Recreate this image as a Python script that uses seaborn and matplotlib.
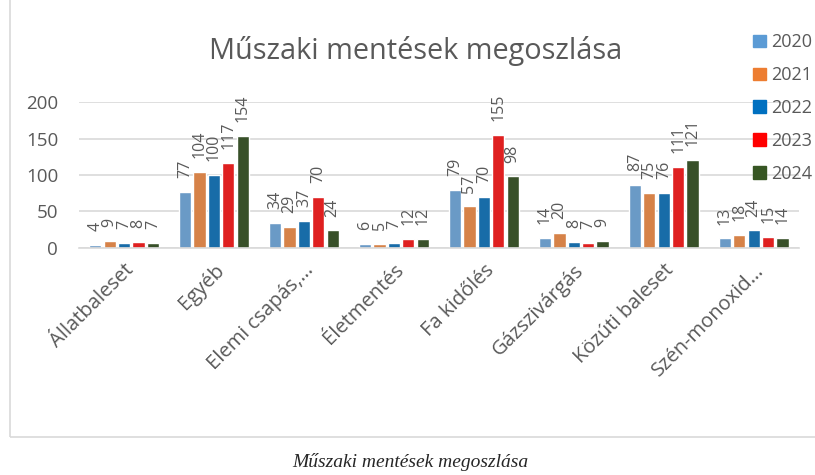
import pandas as pd
import seaborn as sns
import matplotlib.pyplot as plt
from matplotlib.patches import Rectangle

# data
categories = ["Állatbaleset", "Egyéb", "Elemi csapás,…", "Életmentés", "Fa kidőlés",
              "Gázszivárgás", "Közúti baleset", "Szén-monoxid…"]
years = ["2020", "2021", "2022", "2023", "2024"]
v2020 = [4, 77, 34, 6, 79, 14, 87, 13]
v2021 = [9, 104, 29, 5, 57, 20, 75, 18]
v2022 = [7, 100, 37, 7, 70, 8, 76, 24]
v2023 = [8, 117, 70, 12, 155, 7, 111, 15]
v2024 = [7, 154, 24, 12, 98, 9, 121, 14]
colors = ["#5B9BD5", "#ED7D31", "#0070C0", "#FF0000", "#375623"]

series = [v2020, v2021, v2022, v2023, v2024]
rows = []
for y, vals in zip(years, series):
    for c, v in zip(categories, vals):
        rows.append({"kategoria": c, "ev": y, "db": v})
df = pd.DataFrame(rows)

sns.set_style("white")
plt.rcParams['font.family'] = ['Open Sans', 'DejaVu Sans']
gray = "#595959"

fig = plt.figure(figsize=(8.15, 4.75), dpi=100)
ax = fig.add_axes([0.097, 0.478, 0.883, 0.307])

sns.barplot(data=df, x="kategoria", y="db", hue="ev", palette=colors,
            order=categories, hue_order=years, width=0.8, gap=0.15,
            ax=ax, legend=False)

for cont in ax.containers:
    ax.bar_label(cont, rotation=90, padding=10, fontsize=11.5, color=gray)

ax.set_ylim(0, 200)
ax.set_xlim(-0.5, len(categories) - 0.5)
ax.set_yticks([0, 50, 100, 150, 200])
ax.yaxis.grid(True, color="#D9D9D9", linewidth=1.2)
ax.set_axisbelow(True)
for s in ["top", "right", "left"]:
    ax.spines[s].set_visible(False)
ax.spines["bottom"].set_color("#D9D9D9")
ax.spines["bottom"].set_linewidth(1.2)
ax.tick_params(axis="both", length=0, colors=gray)
ax.tick_params(axis="y", pad=15, labelsize=13.5)
ax.tick_params(axis="x", pad=9, labelsize=14.5)
plt.setp(ax.get_xticklabels(), rotation=45, ha="right", rotation_mode="anchor")
ax.set_xlabel("")
ax.set_ylabel("")

fig.text(0.51, 0.893, "Műszaki mentések megoszlása", ha="center", va="center",
         fontsize=20.8, color=gray)

handles = [Rectangle((0, 0), 1, 1, color=c) for c in colors]
fig.legend(handles, years, loc="upper left", bbox_to_anchor=(0.915, 0.945),
           frameon=False, fontsize=13, labelcolor=gray, handlelength=0.7,
           handleheight=0.7, handletextpad=0.3, labelspacing=0.82, borderaxespad=0)

fig.patches.append(Rectangle((10 / 815, 38 / 475), 1.0, 1.0, transform=fig.transFigure,
                             fill=False, edgecolor="#D9D9D9", linewidth=1.2))

fig.text(0.503, 0.028, "Műszaki mentések megoszlása", ha="center", va="center",
         fontsize=14, style="italic", family=["Liberation Serif", "DejaVu Serif"])

plt.savefig("out.png", dpi=100)
